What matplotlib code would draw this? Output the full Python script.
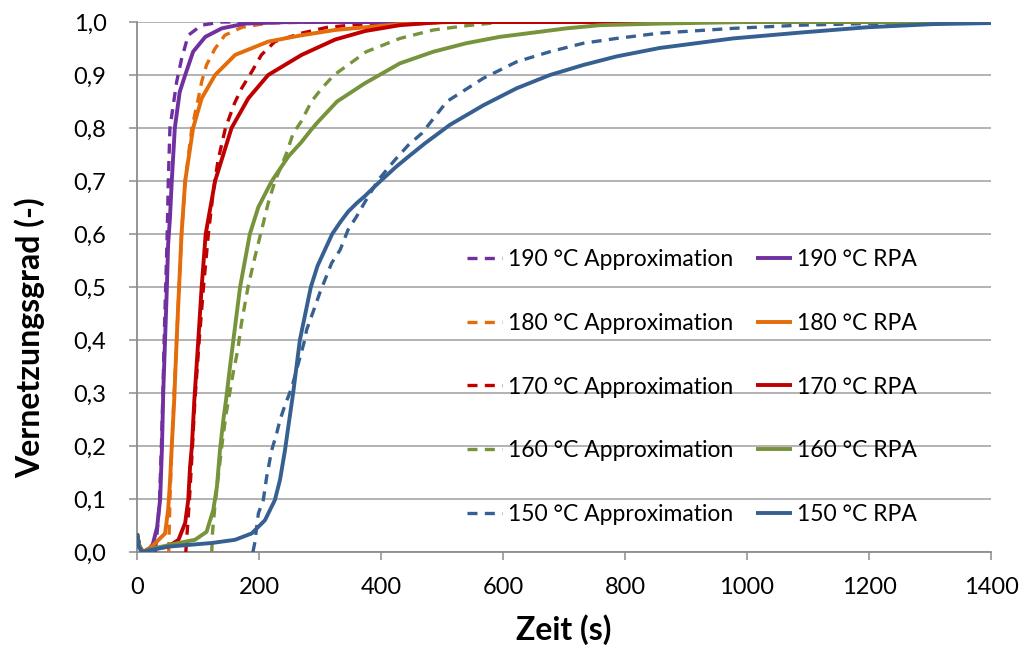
import matplotlib
matplotlib.use("Agg")
import matplotlib.pyplot as plt
from matplotlib.ticker import FuncFormatter

plt.rcParams['font.family'] = ['Lato', 'DejaVu Sans']

# --- measured curing curves (RPA) and model approximations ---
t_rpa_190 = [0, 4, 10, 20, 26, 33, 38, 41, 43, 46, 49, 51, 54, 57, 62, 70, 79, 92, 112, 139, 177, 250, 1400]
a_rpa_190 = [0.035, 0.01, 0.0, 0.005, 0.015, 0.047, 0.10, 0.20, 0.30, 0.40, 0.50, 0.58, 0.63, 0.70, 0.80,
             0.868, 0.90, 0.944, 0.972, 0.988, 0.997, 1.0, 1.0]
t_app_190 = [30, 34, 37, 40, 42.5, 44.5, 47, 49.5, 51.3, 54, 65, 73, 84, 106, 139, 1400]
a_app_190 = [0.0, 0.05, 0.10, 0.20, 0.30, 0.40, 0.50, 0.60, 0.70, 0.80, 0.887, 0.93, 0.975, 0.994, 1.0, 1.0]

t_rpa_180 = [0, 4, 10, 24, 46, 51, 54, 57, 61, 65, 69, 73, 79, 92, 106, 128, 161, 215, 270, 325, 374, 431, 513, 1400]
a_rpa_180 = [0.035, 0.01, 0.0, 0.01, 0.035, 0.079, 0.13, 0.20, 0.287, 0.40, 0.50, 0.60, 0.70, 0.80, 0.856,
             0.90, 0.938, 0.963, 0.975, 0.985, 0.99, 0.996, 1.0, 1.0]
t_app_180 = [52, 54, 57, 61, 65, 69, 73, 79, 90, 100, 106, 114, 128, 144, 172, 215, 300, 1400]
a_app_180 = [0.0, 0.10, 0.20, 0.30, 0.40, 0.50, 0.60, 0.70, 0.80, 0.853, 0.887, 0.919, 0.95, 0.975, 0.99,
             0.998, 1.0, 1.0]

t_rpa_170 = [0, 4, 10, 20, 51, 68, 79, 84, 87, 90, 94, 100.5, 106, 112.6, 128, 155, 182.5, 215, 270, 325, 374,
             431, 500, 1400]
a_rpa_170 = [0.035, 0.01, 0.0, 0.005, 0.01, 0.023, 0.055, 0.098, 0.161, 0.20, 0.287, 0.40, 0.50, 0.60, 0.70,
             0.80, 0.856, 0.90, 0.938, 0.967, 0.983, 0.994, 1.0, 1.0]
t_app_170 = [80, 83, 86, 90, 95, 102, 109, 117, 125, 133, 145, 160, 171.6, 188, 204, 226, 270, 312, 380, 450, 1400]
a_app_170 = [0.0, 0.05, 0.10, 0.18, 0.287, 0.40, 0.50, 0.60, 0.68, 0.74, 0.80, 0.847, 0.875, 0.906, 0.938,
             0.963, 0.979, 0.99, 0.997, 1.0, 1.0]

t_rpa_160 = [0, 4, 10, 20, 68, 95, 114, 125, 131, 136, 141.5, 146, 152.5, 158, 169, 185, 199, 221, 248, 270,
             285, 297, 328, 373, 431, 486, 540, 595, 650, 704, 759, 857, 1000, 1400]
a_rpa_160 = [0.035, 0.01, 0.0, 0.005, 0.017, 0.023, 0.038, 0.079, 0.123, 0.192, 0.249, 0.287, 0.35, 0.40,
             0.50, 0.60, 0.651, 0.70, 0.746, 0.774, 0.796, 0.812, 0.85, 0.884, 0.922, 0.944, 0.96, 0.972,
             0.98, 0.988, 0.994, 0.997, 1.0, 1.0]
t_app_160 = [122.5, 124, 128, 133, 139, 146, 152, 158, 165, 171, 182, 193.4, 204.4, 215, 226, 245, 256, 269,
             286, 303, 323, 346, 376, 431, 486, 540, 600, 1400]
a_app_160 = [0.0, 0.04, 0.09, 0.14, 0.20, 0.26, 0.30, 0.34, 0.38, 0.43, 0.50, 0.557, 0.608, 0.658, 0.699,
             0.752, 0.79, 0.812, 0.85, 0.875, 0.90, 0.919, 0.944, 0.969, 0.985, 0.993, 1.0, 1.0]

t_rpa_150 = [0, 3, 8, 50, 122.5, 160.7, 188, 209.8, 226, 234.4, 242.6, 248, 256, 267, 276, 285, 296, 308, 320,
             333, 346, 360, 374, 390, 404, 425, 445, 472, 513, 568, 622.5, 677, 732, 786, 857, 977, 1087, 1196,
             1305, 1400]
a_rpa_150 = [0.035, 0.01, 0.0, 0.01, 0.017, 0.023, 0.035, 0.06, 0.098, 0.136, 0.192, 0.236, 0.30, 0.40,
             0.45, 0.50, 0.54, 0.57, 0.60, 0.622, 0.642, 0.658, 0.672, 0.69, 0.705, 0.727, 0.746, 0.771,
             0.806, 0.843, 0.875, 0.90, 0.919, 0.935, 0.951, 0.969, 0.98, 0.99, 0.996, 0.998]
t_app_150 = [190, 193, 199, 207, 212.6, 220.8, 229, 234.4, 242.6, 253.6, 275, 278, 291.8, 300, 308, 319, 333,
             346, 360, 374, 395.6, 423, 445, 467, 508, 568, 622.5, 677, 732, 786, 857, 977, 1087, 1196, 1300, 1400]
a_app_150 = [0.0, 0.017, 0.073, 0.098, 0.142, 0.192, 0.224, 0.249, 0.277, 0.31, 0.40, 0.419, 0.463, 0.49,
             0.513, 0.545, 0.57, 0.608, 0.633, 0.661, 0.702, 0.74, 0.768, 0.79, 0.85, 0.894, 0.925, 0.944,
             0.96, 0.969, 0.979, 0.988, 0.994, 0.997, 1.0, 1.0]

temperatures = ["190", "180", "170", "160", "150"]
colors = ["#7030A0", "#E46C0A", "#C00000", "#77933C", "#376092"]
rpa_t = [t_rpa_190, t_rpa_180, t_rpa_170, t_rpa_160, t_rpa_150]
rpa_a = [a_rpa_190, a_rpa_180, a_rpa_170, a_rpa_160, a_rpa_150]
app_t = [t_app_190, t_app_180, t_app_170, t_app_160, t_app_150]
app_a = [a_app_190, a_app_180, a_app_170, a_app_160, a_app_150]

x_ticks = [0, 200, 400, 600, 800, 1000, 1200, 1400]
y_ticks = [0.0, 0.1, 0.2, 0.3, 0.4, 0.5, 0.6, 0.7, 0.8, 0.9, 1.0]

fig = plt.figure(figsize=(10.24, 6.48), dpi=100)
ax = fig.add_axes([137 / 1024, 96 / 648, 854 / 1024, 530 / 648])

app_handles, rpa_handles = [], []
for temp, c, tt, aa in zip(temperatures, colors, app_t, app_a):
    h, = ax.plot(tt, aa, color=c, lw=2.4, linestyle=(0, (3.0, 2.2)),
                 label=f"{temp} °C Approximation", zorder=3)
    app_handles.append(h)
for temp, c, tt, aa in zip(temperatures, colors, rpa_t, rpa_a):
    h, = ax.plot(tt, aa, color=c, lw=2.8, solid_capstyle='butt', solid_joinstyle='round',
                 label=f"{temp} °C RPA", zorder=4)
    rpa_handles.append(h)

ax.set_xlim(0, 1400)
ax.set_ylim(0, 1.0)
ax.set_xticks(x_ticks)
ax.set_yticks(y_ticks)
ax.yaxis.set_major_formatter(FuncFormatter(lambda v, p: f"{v:.1f}".replace(".", ",")))

ax.yaxis.grid(True, color="#A6A6A6", lw=1.2)
ax.set_axisbelow(True)
for s in ["top", "right"]:
    ax.spines[s].set_visible(False)
for s in ["left", "bottom"]:
    ax.spines[s].set_color("#8C8C8C")
    ax.spines[s].set_linewidth(1.3)
ax.tick_params(axis="both", direction="out", length=6, width=1.1, color="#8C8C8C",
               labelsize=17, labelcolor="black")
ax.tick_params(axis="x", pad=12)
ax.tick_params(axis="y", pad=16)

fig.text(564 / 1024, 1 - 630 / 648, "Zeit (s)", ha="center", va="center",
         fontsize=23, fontweight="bold")
fig.text(30 / 1024, 1 - 338 / 648, "Vernetzungsgrad (-)", ha="center", va="center",
         rotation=90, fontsize=23, fontweight="bold")

leg = ax.legend(app_handles + rpa_handles,
                [h.get_label() for h in app_handles + rpa_handles],
                ncol=2, frameon=False, fontsize=16.5,
                loc="center", bbox_to_anchor=(692 / 1024, 1 - 387 / 648),
                bbox_transform=fig.transFigure,
                handlelength=1.55, handletextpad=0.25, columnspacing=1.0,
                labelspacing=1.87)

fig.savefig("out.png", dpi=100)
